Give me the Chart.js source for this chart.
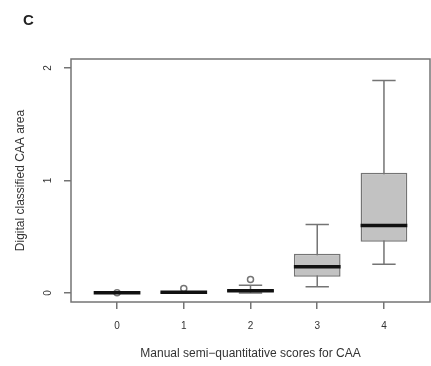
<!DOCTYPE html>
<html>
<head>
<meta charset="utf-8">
<script src="https://cdn.jsdelivr.net/npm/chart.js@4"></script>
<style>
  body { margin: 0; background: #fff; }
  #wrap { position: relative; width: 431px; height: 366px; }
  #painel { position: absolute; left: 23px; top: 11px; font: bold 15px "Liberation Sans", Arial, sans-serif; color: #222; }
</style>
</head>
<body>
<div id="wrap">
  <canvas id="myChart"></canvas>
  <div id="painel">C</div>
</div>
<script>
// scores (x) and box statistics
const escores = [0, 1, 2, 3, 4];
const minimos = [0, 0, 0, 0.056, 0.255];
const q1 = [0, 0.002, 0.01, 0.145, 0.456];
const medianas = [0.002, 0.006, 0.02, 0.234, 0.6];
const q3 = [0.004, 0.01, 0.032, 0.35, 1.07];
const maximos = [0.005, 0.012, 0.068, 0.61, 1.89];
const outliersX = [0, 1, 2];
const outliersY = [0.003, 0.04, 0.12];
const ticksY = [0, 1, 2];

const corLinha = '#747474';
const fonte = '"Liberation Sans", Arial, sans-serif';

// whiskers, caps and median lines drawn through the chart scales
const boxplotPlugin = {
    id: 'boxplot',
    beforeDatasetsDraw(chart) {
        const { ctx, scales: { x, y } } = chart;
        const meta = chart.getDatasetMeta(1);
        ctx.save();
        ctx.strokeStyle = corLinha;
        ctx.lineWidth = 1.5;
        escores.forEach((e, i) => {
            const px = x.getPixelForValue(e);
            const meia = meta.data[i].width / 4;
            ctx.beginPath();
            ctx.moveTo(px, y.getPixelForValue(minimos[i]));
            ctx.lineTo(px, y.getPixelForValue(maximos[i]));
            ctx.moveTo(px - meia, y.getPixelForValue(minimos[i]));
            ctx.lineTo(px + meia, y.getPixelForValue(minimos[i]));
            ctx.moveTo(px - meia, y.getPixelForValue(maximos[i]));
            ctx.lineTo(px + meia, y.getPixelForValue(maximos[i]));
            ctx.stroke();
        });
        ctx.restore();
    },
    afterDatasetsDraw(chart) {
        const { ctx, scales: { x, y }, chartArea } = chart;
        const meta = chart.getDatasetMeta(1);
        ctx.save();
        ctx.strokeStyle = '#111';
        ctx.lineWidth = 3.5;
        escores.forEach((e, i) => {
            const px = x.getPixelForValue(e);
            const meia = meta.data[i].width / 2;
            const py = y.getPixelForValue(medianas[i]);
            ctx.beginPath();
            ctx.moveTo(px - meia, py);
            ctx.lineTo(px + meia, py);
            ctx.stroke();
        });
        ctx.strokeStyle = corLinha;
        ctx.lineWidth = 1.5;
        ctx.strokeRect(chartArea.left, chartArea.top, chartArea.right - chartArea.left, chartArea.bottom - chartArea.top);
        ctx.restore();
    }
};

const ctx = document.getElementById('myChart');

new Chart(ctx, {
    type: 'bar',
    data: {
        datasets: [
            {
                type: 'scatter',
                data: outliersX.map((v, i) => ({ x: v, y: outliersY[i] })),
                pointStyle: 'circle',
                pointRadius: 3,
                borderColor: corLinha,
                borderWidth: 1.5,
                backgroundColor: 'rgba(255,255,255,0)',
                order: 0
            },
            {
                data: escores.map((v, i) => ({ x: v, y: [q1[i], q3[i]] })),
                backgroundColor: '#c2c2c2',
                borderColor: corLinha,
                borderWidth: 1.5,
                borderSkipped: false,
                barPercentage: 0.7,
                categoryPercentage: 1,
                order: 1
            }
        ]
    },
    options: {
        responsive: true,
        maintainAspectRatio: false,
        animation: false,
        layout: { autoPadding: false, padding: { top: 59, right: 1, left: 0, bottom: 0 } },
        plugins: {
            legend: { display: false },
            tooltip: { enabled: false }
        },
        scales: {
            x: {
                type: 'linear',
                offset: false,
                min: -0.69,
                max: 4.69,
                afterBuildTicks: s => { s.ticks = escores.map(v => ({ value: v })); },
                afterFit: s => { s.height = 64; },
                grid: { offset: false, drawOnChartArea: false, tickLength: 7, color: corLinha, lineWidth: 1.5 },
                border: { display: false },
                ticks: { padding: 11, color: '#333', font: { family: fonte, size: 10 } },
                title: {
                    display: true,
                    text: 'Manual semi\u2212quantitative scores for CAA',
                    color: '#333',
                    font: { family: fonte, size: 12 },
                    padding: { top: 0, bottom: 5 }
                }
            },
            y: {
                min: -0.08,
                max: 2.08,
                afterBuildTicks: s => { s.ticks = ticksY.map(v => ({ value: v })); },
                afterFit: s => { s.width = 71; },
                grid: { drawOnChartArea: false, tickLength: 7, color: corLinha, lineWidth: 1.5 },
                border: { display: false },
                ticks: {
                    minRotation: 90,
                    maxRotation: 90,
                    crossAlign: 'center',
                    padding: 13,
                    color: '#333',
                    font: { family: fonte, size: 10 }
                },
                title: {
                    display: true,
                    text: 'Digital classified CAA area',
                    color: '#333',
                    font: { family: fonte, size: 12 },
                    padding: { top: 13, bottom: 0 }
                }
            }
        }
    },
    plugins: [boxplotPlugin]
});
</script>
</body>
</html>
